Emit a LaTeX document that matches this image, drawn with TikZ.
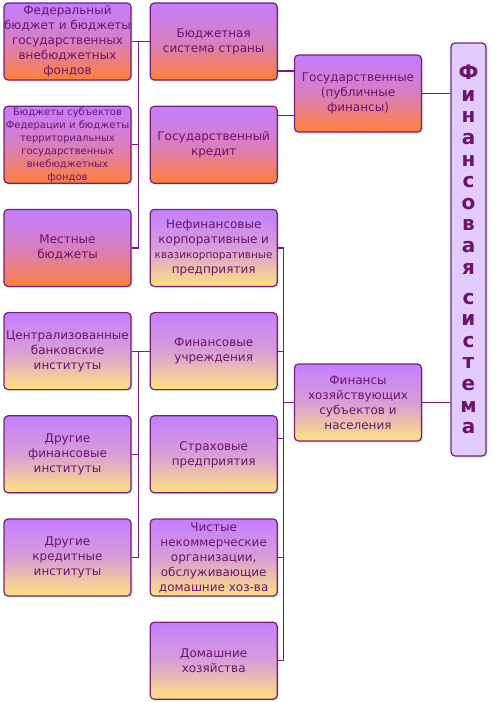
\documentclass[tikz,border=0pt]{standalone}
\usepackage{fontspec}
\setmainfont{DejaVu Sans}
\usetikzlibrary{positioning,shadows}
\definecolor{ink}{HTML}{6A146E}
\definecolor{edge}{HTML}{74207A}
\definecolor{wire}{HTML}{7A1A7E}
\definecolor{lilac}{HTML}{C47EFF}
\definecolor{peach}{HTML}{FF8038}
\definecolor{sand}{HTML}{FFE27E}
\definecolor{pale}{HTML}{E2CCFF}

\begin{document}
\begin{tikzpicture}[x=1pt, y=1pt,
    node distance=25pt and 18pt,
    every node/.style={font=\fontsize{12}{15}\selectfont, text=ink},
    box/.style={draw=edge, line width=1.2pt, rounded corners=4pt, align=center, minimum width=127pt, minimum height=77pt, inner sep=0pt, drop shadow={opacity=0.25, shadow xshift=1.5pt, shadow yshift=-1.5pt}},
    state/.style={box, top color=lilac, bottom color=peach, middle color=lilac!68!peach},
    market/.style={box, top color=lilac, bottom color=sand, middle color=lilac!68!sand},
    column/.style={draw=edge, line width=1.2pt, rounded corners=4pt, fill=pale, minimum width=35pt, minimum height=413pt, align=center, inner sep=0pt, font=\fontsize{20}{21.6}\selectfont\bfseries, drop shadow={opacity=0.25, shadow xshift=1.5pt, shadow yshift=-1.5pt}},
    link/.style={draw=wire, line width=1.2pt}
]
\useasboundingbox (0,0) rectangle (492,-702);

\node[state] (fedbud) at (67.5,-41.5) {Федеральный\\бюджет и бюджеты\\государственных\\внебюджетных\\фондов};
\node[state, below=of fedbud, font=\fontsize{10}{13}\selectfont] (regbud) {Бюджеты субъектов\\Федерации и бюджеты\\территориальных\\государственных\\внебюджетных\\фондов};
\node[state, below=of regbud] (locbud) {Местные\\бюджеты};
\node[market, below=of locbud] (centbank) {Централизованные\\банковские\\институты};
\node[market, below=of centbank] (othfin) {Другие\\финансовые\\институты};
\node[market, below=of othfin] (othcred) {Другие\\кредитные\\институты};

\node[state, right=of fedbud] (budsys) {Бюджетная\\система страны};
\node[state, below=of budsys] (gcredit) {Государственный\\кредит};
\node[market, right=of locbud] (nonfin) {Нефинансовые\\корпоративные и\\{\fontsize{10.5}{13}\selectfont квазикорпоративные}\\предприятия};
\node[market, right=of centbank] (finst) {Финансовые\\учреждения};
\node[market, right=of othfin] (insur) {Страховые\\предприятия};
\node[market, right=of othcred] (npish) {Чистые\\некоммерческие\\организации,\\обслуживающие\\домашние хоз-ва};
\node[market, below=of npish] (house) {Домашние\\хозяйства};

\node[state] (gospub) at (358,-93.5) {Государственные\\(публичные\\финансы)};
\node[market] (firmfin) at (358,-402.5) {Финансы\\хозяйствующих\\субъектов и\\населения};
\node[column] (finsys) at (468.5,-249.5) {Ф\\и\\н\\а\\н\\с\\о\\в\\а\\я\\[8.4pt]с\\и\\с\\т\\е\\м\\а};

\draw[link] (fedbud.east) -- (budsys.west);
\draw[link] (fedbud.east) ++(6.5pt,0) |- (locbud.east);
\draw[link] (regbud.east) -- ++(6.5pt,0);
\draw[link] (centbank.east) -- (finst.west);
\draw[link] (centbank.east) ++(6.5pt,0) |- (othcred.east);
\draw[link] (othfin.east) -- ++(6.5pt,0);

\draw[link] ([yshift=-29.5pt]budsys.east) -- ([yshift=-29.5pt]budsys.east -| gospub.west);
\draw[link] ([yshift=29.5pt]gcredit.east) -- ([yshift=29.5pt]gcredit.east -| gospub.west);
\draw[link] (gospub.east) -- (gospub.east -| finsys.west);

\draw[link] (nonfin.east) -| ([xshift=6pt]house.east) -- (house.east);
\draw[link] (finst.east) -- ++(6pt,0);
\draw[link] ([yshift=15.5pt]insur.east) -- ++(6pt,0);
\draw[link] (npish.east) -- ++(6pt,0);
\draw[link] (firmfin.west) -- ++(-11pt,0);
\draw[link] (firmfin.east) -- (firmfin.east -| finsys.west);
\end{tikzpicture}
\end{document}
